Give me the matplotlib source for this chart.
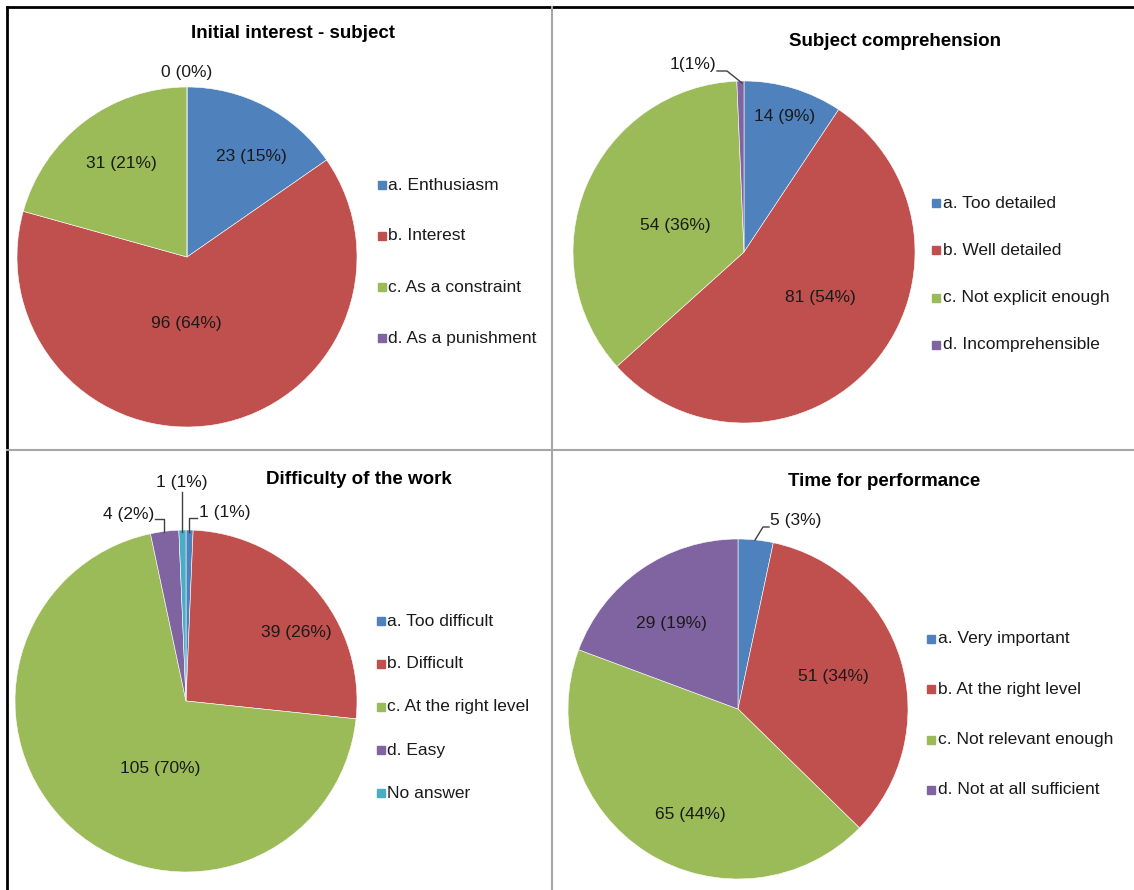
import numpy as np
import matplotlib.pyplot as plt
from matplotlib.patches import Rectangle

plt.rcParams['font.family'] = ['Liberation Sans', 'DejaVu Sans']

W, H = 1134, 890
colors = ['#4F81BD', '#C0504D', '#9BBB59', '#8064A2', '#4BACC6']

# --- data ---
titles = ["Initial interest - subject", "Subject comprehension",
          "Difficulty of the work", "Time for performance"]

interest_cats = ["a. Enthusiasm", "b. Interest", "c. As a constraint", "d. As a punishment"]
interest_vals = [23, 96, 31, 0]
interest_pct = [15, 64, 21, 0]

compr_cats = ["a. Too detailed", "b. Well detailed", "c. Not explicit enough", "d. Incomprehensible"]
compr_vals = [14, 81, 54, 1]
compr_pct = [9, 54, 36, 1]

diff_cats = ["a. Too difficult", "b. Difficult", "c. At the right level", "d. Easy", "No answer"]
diff_vals = [1, 39, 105, 4, 1]
diff_pct = [1, 26, 70, 2, 1]

time_cats = ["a. Very important", "b. At the right level", "c. Not relevant enough",
             "d. Not at all sufficient"]
time_vals = [5, 51, 65, 29]
time_pct = [3, 34, 44, 19]

# --- layout (pixels) ---
# in-slice labels: ('in', distance as fraction of radius, angle shift in degrees)
# outside labels: ('out', x, y, ha, leader points, separator)
charts = [
    dict(cats=interest_cats, vals=interest_vals, pct=interest_pct, title=titles[0],
         c=(187, 257), r=170, tpos=(293, 33), leg=(382, 388, 185, 51),
         labels=[('in', .70, -5), ('in', .39, -10), ('in', .67, -2),
                 ('out', 187, 73, 'center', [], ' ')]),
    dict(cats=compr_cats, vals=compr_vals, pct=compr_pct, title=titles[1],
         c=(744, 252), r=171, tpos=(895, 42), leg=(936, 943, 203, 47.3),
         labels=[('in', .83, 0), ('in', .52, 10), ('in', .43, 2),
                 ('out', 716, 64, 'right', [(717, 71), (727, 71), (742, 83)], '')]),
    dict(cats=diff_cats, vals=diff_vals, pct=diff_pct, title=titles[2],
         c=(186, 701), r=171, tpos=(359, 479), leg=(381, 387, 621, 43),
         labels=[('out', 199, 512, 'left', [(189, 532), (189, 518), (197, 518)], ' '),
                 ('in', .76, -9), ('in', .42, 21),
                 ('out', 154, 514, 'right', [(164, 532), (164, 519), (155, 519)], ' '),
                 ('out', 182, 483, 'center', [(182, 532), (182, 492)], ' ')]),
    dict(cats=time_cats, vals=time_vals, pct=time_pct, title=titles[3],
         c=(738, 709), r=170, tpos=(884, 481), leg=(931, 938, 639, 50.3),
         labels=[('out', 770, 521, 'left', [(755, 540), (763, 527), (769, 527)], ' '),
                 ('in', .59, 2), ('in', .68, 8), ('in', .64, 3)]),
]

fig = plt.figure(figsize=(W / 100, H / 100), dpi=100)

# overlay axes in pixel coordinates for frame, titles, labels, legends
bg = fig.add_axes([0, 0, 1, 1], zorder=5)
bg.set_xlim(0, W)
bg.set_ylim(H, 0)
bg.axis('off')
bg.patch.set_alpha(0)

bg.plot([7, 7], [7, H], color='black', lw=2)
bg.plot([7, W], [7, 7], color='black', lw=2)
bg.plot([552, 552], [7, H], color='#A6A6A6', lw=1.5)
bg.plot([7, W], [450, 450], color='#A6A6A6', lw=1.5)

for ch in charts:
    cx, cy = ch['c']
    r = ch['r']
    ax = fig.add_axes([(cx - r) / W, 1 - (cy + r) / H, 2 * r / W, 2 * r / H])
    n = len(ch['vals'])
    ax.pie(ch['vals'], colors=colors[:n], startangle=90, counterclock=False,
           radius=1, wedgeprops=dict(edgecolor='white', linewidth=0.4))
    ax.set_xlim(-1, 1)
    ax.set_ylim(-1, 1)
    ax.axis('off')

    bg.text(ch['tpos'][0], ch['tpos'][1], ch['title'], fontsize=13.5,
            fontweight='bold', ha='center', va='center', color='black')

    # slice labels
    total = sum(ch['vals'])
    start = 90.0
    for v, p, spec in zip(ch['vals'], ch['pct'], ch['labels']):
        ext = 360.0 * v / total
        mid = start - ext / 2
        start -= ext
        if spec[0] == 'in':
            ang = np.radians(mid + spec[2])
            x = cx + spec[1] * r * np.cos(ang)
            y = cy - spec[1] * r * np.sin(ang)
            bg.text(x, y, f"{v} ({p}%)", fontsize=12.5, ha='center', va='center',
                    color='#1a1a1a')
        else:
            _, x, y, ha, pts, sep = spec
            bg.text(x, y, f"{v}{sep}({p}%)", fontsize=12.5, ha=ha, va='center',
                    color='#1a1a1a')
            if pts:
                bg.plot([q[0] for q in pts], [q[1] for q in pts], color='#404040', lw=1)

    # legend
    mx, tx, y0, dy = ch['leg']
    for i, cat in enumerate(ch['cats']):
        y = y0 + i * dy
        bg.add_patch(Rectangle((mx - 4, y - 4), 8, 8, color=colors[i]))
        bg.text(tx, y, cat, fontsize=12.5, ha='left', va='center', color='#1a1a1a')

fig.savefig('out.png', dpi=100)
